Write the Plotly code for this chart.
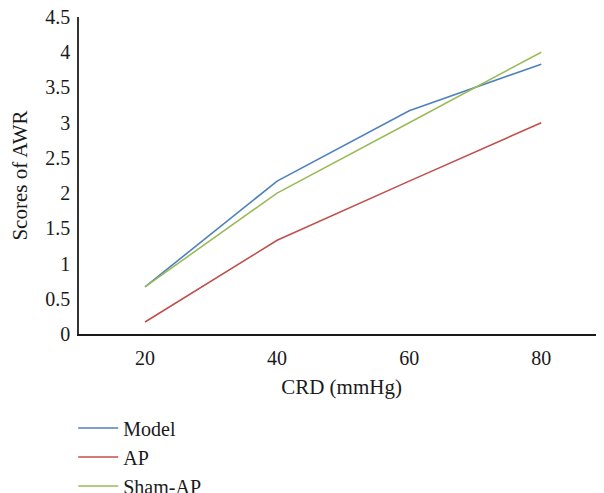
import plotly.graph_objects as go

crd = [20, 40, 60, 80]
x_ticks = ["20", "40", "60", "80"]
model = [0.67, 2.17, 3.17, 3.83]
ap = [0.17, 1.33, 2.17, 3.0]
sham_ap = [0.67, 2.0, 3.0, 4.0]
y_ticks = [0, 0.5, 1, 1.5, 2, 2.5, 3, 3.5, 4, 4.5]
y_tick_text = ["0", "0.5", "1", "1.5", "2", "2.5", "3", "3.5", "4", "4.5"]

series = [("Model", model, "#4F81BD"), ("AP", ap, "#C0504D"), ("Sham-AP", sham_ap, "#9BBB59")]

FONT = "Liberation Serif"
fig = go.Figure()
for name, vals, col in series:
    fig.add_trace(go.Scatter(x=crd, y=vals, name=name, mode="lines",
                             line=dict(color=col, width=1.6)))

# the page places the figure 8 px in from its top-left corner
fig.update_layout(
    width=596, height=485,
    margin=dict(l=71, r=0, t=9, b=159, autoexpand=False),
    paper_bgcolor="white", plot_bgcolor="white",
    font=dict(family=FONT, size=20, color="#1a1a1a"),
    showlegend=True,
    legend=dict(x=-0.011, xanchor="left", y=-0.235, yanchor="top",
                orientation="v", font=dict(family=FONT, size=20),
                bgcolor="rgba(0,0,0,0)", tracegroupgap=0, itemwidth=40),
    xaxis=dict(range=[10, 89.5], tickvals=crd, ticktext=x_ticks,
               showgrid=False, zeroline=False, showline=True, automargin=False,
               linecolor="#1a1a1a", linewidth=1.5,
               ticks="outside", ticklen=5, tickcolor="rgba(0,0,0,0)",
               title=dict(text="CRD (mmHg)", font=dict(size=21), standoff=12),
               tickfont=dict(size=20), ticklabeloverflow="allow"),
    yaxis=dict(range=[0, 4.5], tickvals=y_ticks, ticktext=y_tick_text,
               showgrid=False, zeroline=False, showline=True, automargin=False,
               linecolor="#333333", linewidth=1.5,
               ticks="outside", ticklen=3, tickcolor="rgba(0,0,0,0)",
               title=dict(text="Scores of AWR", font=dict(size=21), standoff=16),
               tickfont=dict(size=20), ticklabeloverflow="allow"),
)

fig.write_html("out.html")
